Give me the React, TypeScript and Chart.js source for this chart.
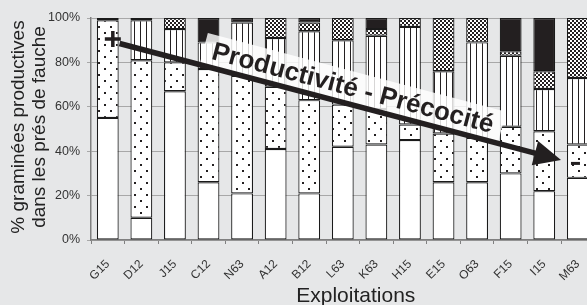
import React, { useEffect, useRef } from 'react';
import { Chart, registerables } from 'chart.js';

Chart.register(...registerables);

const categories = ['G15', 'D12', 'J15', 'C12', 'N63', 'A12', 'B12', 'L63', 'K63', 'H15', 'E15', 'O63', 'F15', 'I15', 'M63'];
const whiteShare = [55, 10, 67, 26, 21, 41, 21, 42, 43, 45, 26, 26, 30, 22, 28];
const dottedShare = [44, 71, 13, 51, 53, 28, 42, 19, 16, 7, 22, 20, 21, 27, 15];
const stripedShare = [0, 18, 15, 12, 24, 22, 31, 29, 33, 44, 28, 43, 32, 19, 30];
const checkedShare = [0, 0, 5, 0, 0, 9, 4, 10, 3, 4, 24, 11, 2, 8, 27];
const blackShare = [1, 1, 0, 11, 2, 0, 2, 0, 5, 0, 0, 0, 15, 24, 0];
const yTickStep = 20;
const yTitle = ['% graminées productives', 'dans les prés de fauche'];
const xTitle = 'Exploitations';
const arrowLabel = 'Productivité - Précocité';
// annotation anchors in data space: [category index, percent]
const arrowFrom = [0.35, 88.5];
const arrowTo = [13.5, 36];
const plusAt = [0.15, 90.5];
const minusAt = [13.93, 34.5];
const labelAt = [7.3, 68.5];

const FAMILY = 'Liberation Sans';
const FONT = `"${FAMILY}", Arial, sans-serif`;
const INK = '#231f20';

function tile(w: number, h: number, draw: (c: CanvasRenderingContext2D) => void) {
  const cv = document.createElement('canvas');
  cv.width = w;
  cv.height = h;
  const c = cv.getContext('2d')!;
  c.fillStyle = '#ffffff';
  c.fillRect(0, 0, w, h);
  c.fillStyle = INK;
  draw(c);
  return c.createPattern(cv, 'repeat')!;
}

const nz = (a: number[]) => a.map((v) => (v === 0 ? null : v));

export default function App() {
  const ref = useRef<HTMLCanvasElement>(null);
  useEffect(() => {
    let chart: Chart | null = null;
    let cancelled = false;
    const build = () => {
      if (cancelled || !ref.current) return;
      const ctx = ref.current.getContext('2d')!;
      const dots = tile(12, 12, (c) => {
        c.fillRect(2, 2, 2, 2);
        c.fillRect(8, 8, 2, 2);
      });
      const stripes = tile(6, 6, (c) => {
        c.fillRect(2, 0, 1, 6);
      });
      const checks = tile(4, 4, (c) => {
        c.fillRect(0, 0, 2, 2);
        c.fillRect(2, 2, 2, 2);
      });
      const series = [
        { d: whiteShare, bg: '#ffffff' },
        { d: dottedShare, bg: dots },
        { d: stripedShare, bg: stripes },
        { d: checkedShare, bg: checks },
        { d: blackShare, bg: INK },
      ];

      const annot = {
        id: 'annot',
        beforeDraw(ch: any) {
          const c = ch.ctx;
          const a = ch.chartArea;
          c.save();
          c.fillStyle = '#e6e7e8';
          c.fillRect(0, 0, ch.width, ch.height);
          c.fillStyle = '#222';
          c.textAlign = 'center';
          c.textBaseline = 'middle';
          c.font = `19px ${FONT}`;
          const cy = (a.top + a.bottom) / 2 - 2;
          c.save();
          c.translate(a.left - 72, cy);
          c.rotate(-Math.PI / 2);
          c.fillText(yTitle[0], 0, 0);
          c.restore();
          c.save();
          c.translate(a.left - 51, cy);
          c.rotate(-Math.PI / 2);
          c.fillText(yTitle[1], 0, 0);
          c.restore();
          c.font = `21px ${FONT}`;
          c.fillText(xTitle, (a.left + a.right) / 2 + 13, a.bottom + 56);
          c.restore();
        },
        afterDatasetsDraw(ch: any) {
          const c = ch.ctx;
          const xs = ch.scales.x;
          const ys = ch.scales.y;
          const P = (p: number[]) => [xs.getPixelForValue(p[0]), ys.getPixelForValue(p[1])];
          const [x0, y0] = P(arrowFrom);
          const [x1, y1] = P(arrowTo);
          const ang = Math.atan2(y1 - y0, x1 - x0);
          const [lx, ly] = P(labelAt);
          c.save();
          c.save();
          c.translate(lx, ly);
          c.rotate(ang);
          c.font = `bold 26px ${FONT}`;
          const w = c.measureText(arrowLabel).width;
          c.fillStyle = 'rgba(255,255,255,0.82)';
          c.fillRect(-w / 2 - 9, -16, w + 18, 31);
          c.fillStyle = INK;
          c.textAlign = 'center';
          c.textBaseline = 'middle';
          c.fillText(arrowLabel, 0, 1);
          c.restore();
          const headLen = 27;
          const headHalf = 12.5;
          const ux = Math.cos(ang);
          const uy = Math.sin(ang);
          const bx = x1 - ux * headLen;
          const by = y1 - uy * headLen;
          c.strokeStyle = INK;
          c.lineWidth = 5.5;
          c.beginPath();
          c.moveTo(x0, y0);
          c.lineTo(bx + ux * 2, by + uy * 2);
          c.stroke();
          c.fillStyle = INK;
          c.beginPath();
          c.moveTo(x1, y1);
          c.lineTo(bx - uy * headHalf, by + ux * headHalf);
          c.lineTo(bx + uy * headHalf, by - ux * headHalf);
          c.closePath();
          c.fill();
          const [px, py] = P(plusAt);
          c.lineWidth = 3.5;
          c.beginPath();
          c.moveTo(px - 8, py);
          c.lineTo(px + 8, py);
          c.moveTo(px, py - 8);
          c.lineTo(px, py + 8);
          c.stroke();
          const [mx, my] = P(minusAt);
          c.lineWidth = 3;
          c.beginPath();
          c.moveTo(mx - 4.5, my);
          c.lineTo(mx + 4.5, my);
          c.stroke();
          c.restore();
        },
      };

      chart = new Chart(ctx, {
        type: 'bar',
        data: {
          labels: categories,
          datasets: series.map((s) => ({
            data: nz(s.d) as any,
            backgroundColor: s.bg as any,
            borderColor: '#1a1a1a',
            borderWidth: 1.2,
            borderSkipped: false,
            barPercentage: 0.65,
            categoryPercentage: 1,
          })),
        },
        options: {
          animation: false,
          responsive: false,
          events: [],
          layout: { padding: { top: 18, left: 0, right: 0, bottom: 0 } },
          plugins: { legend: { display: false }, tooltip: { enabled: false } },
          scales: {
            x: {
              stacked: true,
              grid: { drawOnChartArea: false, drawTicks: true, tickLength: 4, color: '#808080', offset: true },
              border: { color: '#808080', width: 1.5 },
              ticks: {
                minRotation: 45,
                maxRotation: 45,
                padding: 13,
                color: '#333',
                font: { family: FONT, size: 12 },
              },
              afterFit: (s: any) => {
                s.height = 65;
              },
            },
            y: {
              stacked: true,
              min: 0,
              max: 100,
              ticks: {
                stepSize: yTickStep,
                padding: 7,
                color: '#333',
                font: { family: FONT, size: 12.5 },
                callback: (v: any) => v + '%',
              },
              grid: { color: '#a8a8a8', tickLength: 4, lineWidth: 1 },
              border: { color: '#808080', width: 1.5 },
              afterFit: (s: any) => {
                s.width = 91;
              },
            },
          },
        },
        plugins: [annot],
      });
    };
    const fonts: any = (document as any).fonts;
    if (fonts && fonts.load) {
      Promise.all([
        fonts.load(`11px "${FAMILY}"`),
        fonts.load(`bold 24px "${FAMILY}"`),
      ])
        .catch(() => null)
        .then(build);
    } else {
      build();
    }
    return () => {
      cancelled = true;
      if (chart) chart.destroy();
    };
  }, []);

  return (
    <div style={{ position: 'fixed', left: 0, top: 0, width: 587, height: 305, overflow: 'hidden', background: '#e6e7e8' }}>
      <canvas ref={ref} width={601} height={305} style={{ display: 'block' }} />
    </div>
  );
}
